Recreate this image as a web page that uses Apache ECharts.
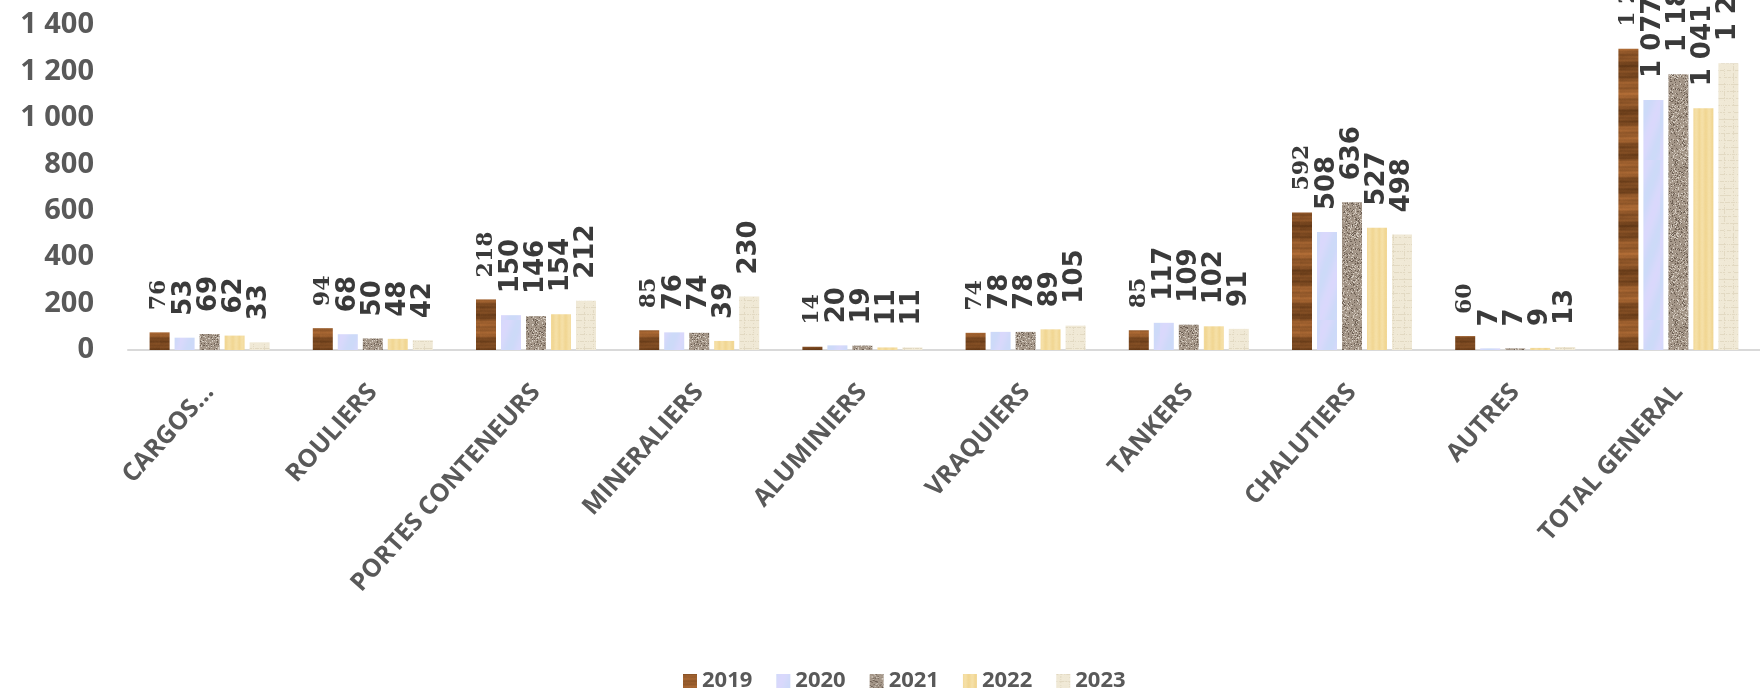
<!DOCTYPE html>
<html><head><meta charset="utf-8">
<script src="https://cdn.jsdelivr.net/npm/echarts@6/dist/echarts.min.js"></script>
<style>html,body{margin:0;padding:0;background:#fff}#c{width:1760px;height:691px}</style>
</head><body><div id="c"></div>
<script>
const categories = ['CARGOS...', 'ROULIERS', 'PORTES CONTENEURS', 'MINERALIERS', 'ALUMINIERS', 'VRAQUIERS', 'TANKERS', 'CHALUTIERS', 'AUTRES', 'TOTAL GENERAL'];
const years = ['2019', '2020', '2021', '2022', '2023'];
const v2019 = [76, 94, 218, 85, 14, 74, 85, 592, 60, 1298];
const v2020 = [53, 68, 150, 76, 20, 78, 117, 508, 7, 1077];
const v2021 = [69, 50, 146, 74, 19, 78, 109, 636, 7, 1188];
const v2022 = [62, 48, 154, 39, 11, 89, 102, 527, 9, 1041];
const v2023 = [33, 42, 212, 230, 11, 105, 91, 498, 13, 1235];
const yTicks = [0, 200, 400, 600, 800, 1000, 1200, 1400];

function hsh(i){ const x = Math.sin(i * 12.9898 + 78.233) * 43758.5453; return x - Math.floor(x); }
function fmt(n){ return String(n).replace(/\B(?=(\d{3})+(?!\d))/g, ' '); }

function makeTex(kind){
  const c = document.createElement('canvas');
  const w = 20, h = 160;
  c.width = w; c.height = h;
  const g = c.getContext('2d');
  const img = g.createImageData(w, h);
  for (let y = 0; y < h; y++) {
    for (let x = 0; x < w; x++) {
      let r, gg, b;
      const n = hsh(x * 131 + y * 7919 + kind * 17);
      if (kind === 0) {
        const t = 0.5 + 0.25 * Math.sin(y * 0.0785 * 2 + 0.8 * Math.sin(y * 0.039)) + 0.14 * Math.sin(y * 0.55 + x * 0.04) + 0.07 * Math.sin(y * 1.7) + 0.05 * (n - 0.5);
        r = 92 + 90 * t; gg = 52 + 60 * t; b = 20 + 36 * t;
      } else if (kind === 1) {
        const t = 0.5 + 0.3 * Math.sin(y * 0.09 + x * 0.25) + 0.05 * (n - 0.5);
        r = 200 + 22 * t; gg = 218 - 2 * t; b = 247 + 6 * t;
      } else if (kind === 2) {
        const t = n;
        if (t < 0.14) { r = 110; gg = 96; b = 84; }
        else if (t > 0.86) { r = 212; gg = 203; b = 192; }
        else { r = 164 + 24 * (t - 0.5); gg = 150 + 24 * (t - 0.5); b = 136 + 24 * (t - 0.5); }
      } else if (kind === 3) {
        const t = 0.5 + 0.3 * Math.sin(x * 0.9) + 0.1 * (n - 0.5);
        r = 240 + 6 * t; gg = 212 + 14 * t; b = 142 + 30 * t;
      } else {
        const line = (y % 7 === 0 && n > 0.3) || (x % 9 === 4 && n > 0.5);
        const t = 0.5 + 0.3 * (n - 0.5);
        r = line ? 226 : 236 + 8 * t; gg = line ? 217 : 229 + 8 * t; b = line ? 194 : 210 + 8 * t;
      }
      const i = (y * w + x) * 4;
      img.data[i] = r; img.data[i + 1] = gg; img.data[i + 2] = b; img.data[i + 3] = 255;
    }
  }
  g.putImageData(img, 0, 0);
  return { image: c, repeat: 'repeat' };
}

const values = [v2019, v2020, v2021, v2022, v2023];
const series = years.map((yr, k) => ({
  name: yr,
  type: 'bar',
  data: values[k],
  barWidth: 20,
  barGap: '25%',
  itemStyle: { color: makeTex(k) },
  label: {
    show: true,
    position: 'top',
    rotate: 90,
    align: 'left',
    verticalAlign: 'middle',
    distance: 22,
    formatter: p => fmt(p.value),
    color: '#3a3a3a',
    fontFamily: k === 0 ? 'DejaVu Serif' : 'DejaVu Sans',
    fontWeight: 'bold',
    fontSize: k === 0 ? 22 : 26
  }
}));

const chart = echarts.init(document.getElementById('c'), null, { renderer: 'canvas' });
chart.setOption({
  animation: false,
  backgroundColor: '#ffffff',
  grid: { left: 128, right: 0, top: 25, bottom: 341, containLabel: false },
  legend: {
    data: years,
    left: 678, top: 665,
    icon: 'rect', itemWidth: 14, itemHeight: 14, itemGap: 24,
    textStyle: { fontFamily: 'Open Sans', fontWeight: 'bold', fontSize: 22, color: '#595959' }
  },
  xAxis: {
    type: 'category',
    data: categories,
    axisLine: { lineStyle: { color: '#d9d9d9', width: 2 } },
    axisTick: { show: false },
    axisLabel: {
      interval: 0, rotate: 48, margin: 38,
      fontFamily: 'Open Sans', fontWeight: 'bold', fontSize: 25, color: '#595959'
    }
  },
  yAxis: {
    type: 'value',
    min: yTicks[0], max: yTicks[yTicks.length - 1], interval: 200,
    axisLine: { show: false }, axisTick: { show: false },
    splitLine: { show: false },
    axisLabel: {
      margin: 34, formatter: v => fmt(v),
      fontFamily: 'Open Sans', fontWeight: 'bold', fontSize: 29, color: '#595959'
    }
  },
  series: series
});
</script></body></html>
